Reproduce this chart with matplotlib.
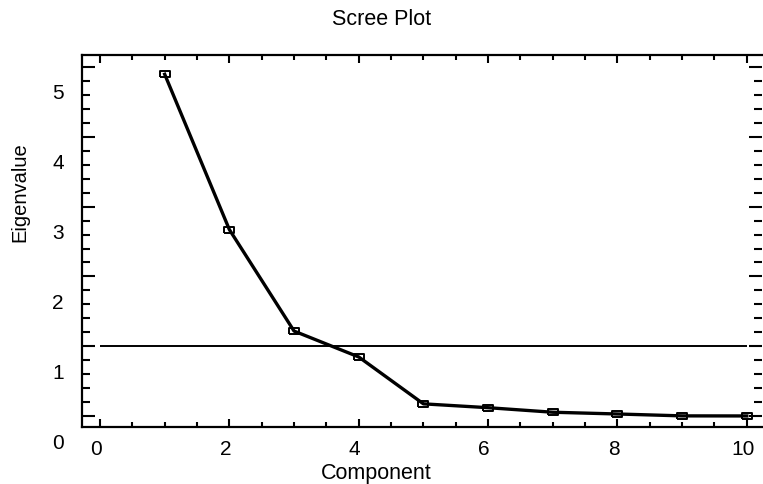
import matplotlib
matplotlib.use("Agg")
import matplotlib.pyplot as plt
import matplotlib.transforms as mtransforms
import numpy as np

plt.rcParams['font.family'] = ['Liberation Sans', 'DejaVu Sans']

# eigenvalues
components = [1, 2, 3, 4, 5, 6, 7, 8, 9, 10]
eigenvalues = [4.89, 2.67, 1.22, 0.85, 0.18, 0.125, 0.06, 0.035, 0.008, 0.007]
cutoff = 1.0
xticks = [0, 2, 4, 6, 8, 10]
yticks = [0, 1, 2, 3, 4, 5]

fig = plt.figure(figsize=(7.63, 4.85), dpi=100)
ax = fig.add_axes([0.1071, 0.1181, 0.8916, 0.7671])

# little rectangle marker, wider than tall
rect = [(-1, -0.55), (1, -0.55), (1, 0.55), (-1, 0.55), (-1, -0.55)]

ax.hlines(cutoff, 0, 10, colors='black', linewidth=1.4, zorder=2)
ax.plot(components, eigenvalues, color='black', linewidth=2.4,
        marker=rect, markersize=7.5, markerfacecolor='none',
        markeredgecolor='black', markeredgewidth=1.4, zorder=3)

ax.set_xlim(-0.283, 10.235)
ax.set_ylim(-0.147, 5.17)

ax.set_xticks(xticks)
ax.set_xticks(np.arange(0, 10.01, 0.5), minor=True)
ax.set_yticks(yticks)
ax.set_yticks(np.arange(0, 5.01, 0.2), minor=True)

for s in ['left', 'top', 'bottom']:
    ax.spines[s].set_linewidth(1.6)
ax.spines['right'].set_visible(False)

ax.tick_params(which='both', direction='in', top=True, right=True,
               width=1.5, labelsize=15)
ax.tick_params(axis='y', which='major', left=True, length=9.5, pad=13)
ax.tick_params(axis='y', which='minor', length=5.8)
ax.tick_params(axis='x', which='major', length=6, pad=9)
ax.tick_params(axis='x', which='minor', length=3.8)

# labels sit a bit off the ticks in the original
dy = mtransforms.ScaledTranslation(0, -24 / 100, fig.dpi_scale_trans)
for lab in ax.get_yticklabels():
    lab.set_transform(lab.get_transform() + dy)
dx = mtransforms.ScaledTranslation(-4 / 100, 0, fig.dpi_scale_trans)
for lab in ax.get_xticklabels():
    lab.set_transform(lab.get_transform() + dx)

fig.text(382 / 763, 1 - 25 / 485, 'Scree Plot', ha='center', va='baseline', fontsize=15.5)
fig.text(376 / 763, 1 - 479 / 485, 'Component', ha='center', va='baseline', fontsize=15.5)
fig.text(20 / 763, 1 - 192 / 485, 'Eigenvalue', ha='center', va='center',
         rotation=90, fontsize=14.5)

fig.savefig('out.png', dpi=100)
